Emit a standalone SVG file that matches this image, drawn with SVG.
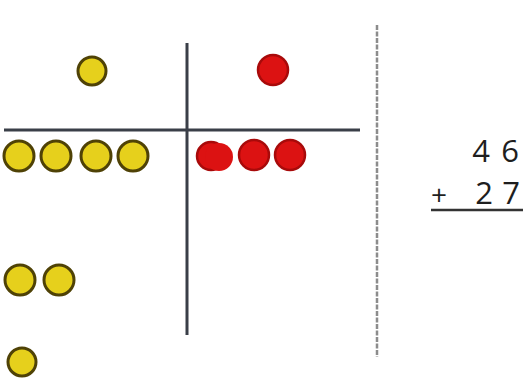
<svg xmlns="http://www.w3.org/2000/svg" width="526" height="383" viewBox="0 0 526 383">
<style>
.y{fill:#e6d01c;stroke:#4f4206;stroke-width:3}
.r{fill:#dc1212;stroke:#a80a0a;stroke-width:2.5}
.ax{stroke:#3a3f48;stroke-width:3}
.t{font-family:"Open Sans","Noto Sans",sans-serif;font-size:31px;fill:#1e1e1e;text-anchor:middle}
</style>
<rect width="526" height="383" fill="#fff"/>
<g id="axes">
<line class="ax" x1="4" y1="130" x2="360" y2="130"/>
<line class="ax" x1="187" y1="43" x2="187" y2="335"/>
</g>
<g id="ruler">
<line x1="377" y1="25" x2="377" y2="357" stroke="#8c8c8c" stroke-width="2.5" stroke-dasharray="5 1.5"/>
</g>
<g id="yellow-tens">
<circle class="y" cx="92" cy="71" r="14"/>
</g>
<g id="yellow-row">
<circle class="y" cx="19" cy="156" r="15"/>
<circle class="y" cx="56" cy="156" r="15"/>
<circle class="y" cx="96" cy="156" r="15"/>
<circle class="y" cx="133" cy="156" r="15"/>
</g>
<g id="yellow-pair">
<circle class="y" cx="20" cy="280" r="15"/>
<circle class="y" cx="59" cy="280" r="15"/>
</g>
<g id="yellow-single">
<circle class="y" cx="22" cy="362" r="14"/>
</g>
<g id="red-tens">
<circle class="r" cx="273" cy="70" r="15"/>
</g>
<g id="red-row">
<circle class="r" cx="211" cy="156" r="14"/>
<circle cx="219" cy="157" r="14" fill="#dc1212"/>
<circle class="r" cx="254" cy="155" r="15"/>
<circle class="r" cx="290" cy="155" r="15"/>
</g>
<g id="sum">
<text class="t" x="481" y="162">4</text>
<text class="t" x="510" y="162">6</text>
<text class="t" x="439" y="205" style="font-size:28px">+</text>
<text class="t" x="484" y="204">2</text>
<text class="t" x="511" y="204">7</text>
<line x1="431" y1="210" x2="523" y2="210" stroke="#333" stroke-width="2.5"/>
</g>
</svg>
